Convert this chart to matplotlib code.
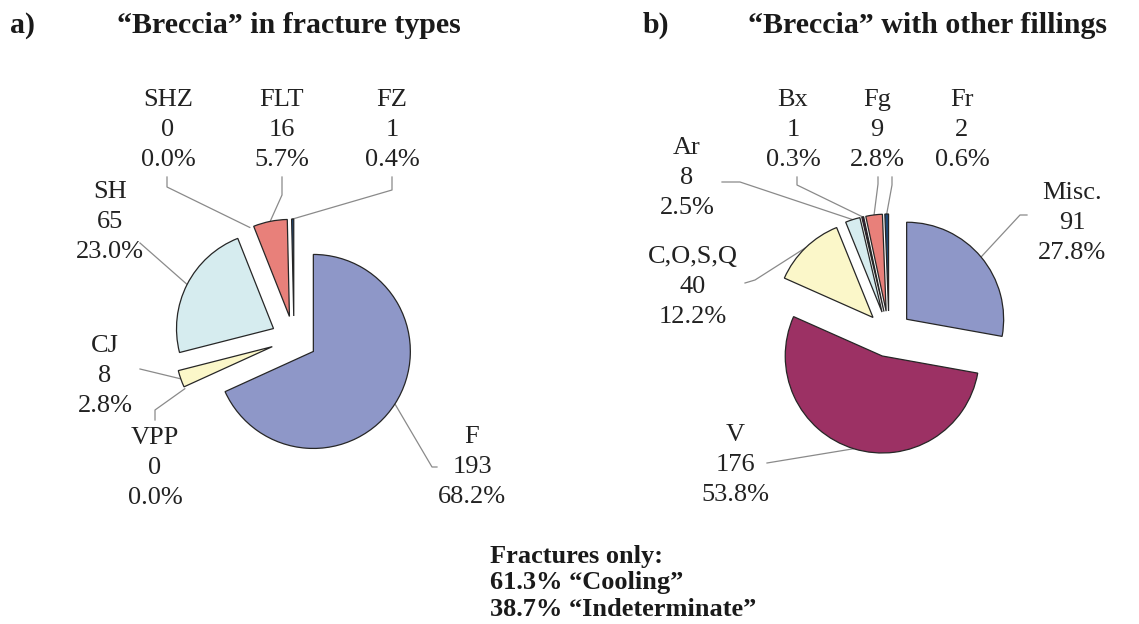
import matplotlib
matplotlib.use('Agg')
import matplotlib.pyplot as plt
import numpy as np

plt.rcParams['font.family'] = ['Liberation Serif', 'DejaVu Serif']

W, H = 1139, 624

# a) breccia by fracture type
a_names = ['F', 'VPP', 'CJ', 'SH', 'SHZ', 'FLT', 'FZ']
a_counts = [193, 0, 8, 65, 0, 16, 1]
a_pcts = ['68.2%', '0.0%', '2.8%', '23.0%', '0.0%', '5.7%', '0.4%']

# b) breccia together with other fillings
b_names = ['Misc.', 'V', 'C,O,S,Q', 'Ar', 'Bx', 'Fg', 'Fr']
b_counts = [91, 176, 40, 8, 1, 9, 2]
b_pcts = ['27.8%', '53.8%', '12.2%', '2.5%', '0.3%', '2.8%', '0.6%']

palette = ['#8e97c8', '#9c3164', '#fbf7c9', '#d6ecef', '#4a1744', '#e8807a', '#1f4a7a']

R = 97        # pie radius (pixels)
EXPL = 23     # explode offset (pixels)

# label centre and leader-line start/elbow, pixel coords from top-left
a_layout = {
    'F':   ((472, 467), [(437, 467), (432, 467)]),
    'VPP': ((155, 468), [(155, 420), (155, 410)]),
    'CJ':  ((105, 376), [(140, 369)]),
    'SH':  ((110, 222), [(140, 243)]),
    'SHZ': ((168, 130), [(167, 177), (167, 187)]),
    'FLT': ((282, 130), [(282, 177), (282, 195)]),
    'FZ':  ((392, 130), [(392, 177), (392, 190)]),
}
b_layout = {
    'Misc.':   ((1072, 223), [(1027, 215), (1020, 215)]),
    'V':       ((735, 465), [(767, 463)]),
    'C,O,S,Q': ((693, 287), [(745, 283), (755, 280)]),
    'Ar':      ((687, 178), [(722, 182), (740, 182)]),
    'Bx':      ((793, 130), [(797, 177), (797, 185)]),
    'Fg':      ((877, 130), [(878, 177), (878, 184)]),
    'Fr':      ((962, 130), [(892, 177), (892, 185)]),
}


def draw_pie(ax, names, counts, pcts, centre, layout):
    wedges, _ = ax.pie(counts, colors=palette, startangle=90, counterclock=False,
                       radius=R, center=(centre[0], H - centre[1]),
                       explode=[EXPL] * len(counts),
                       wedgeprops=dict(edgecolor='#262626', linewidth=0.9))
    for w, n, c, p in zip(wedges, names, counts, pcts):
        if c == 0:
            w.set_visible(False)
        mid = np.deg2rad((w.theta1 + w.theta2) / 2)
        ex = w.center[0] + w.r * np.cos(mid)
        ey = w.center[1] + w.r * np.sin(mid)
        (tx, ty), pts = layout[n]
        xs = [q[0] for q in pts] + [ex]
        ys = [H - q[1] for q in pts] + [ey]
        ax.plot(xs, ys, color='#8a8a8a', lw=0.9, zorder=0)
        ax.text(tx, H - ty, f'{n}\n{c}\n{p}', ha='center', va='center',
                fontsize=19, linespacing=1.45, color='#222222')


fig = plt.figure(figsize=(W / 100, H / 100), dpi=100)
ax = fig.add_axes([0, 0, 1, 1])

draw_pie(ax, a_names, a_counts, a_pcts, (294, 339), a_layout)
draw_pie(ax, b_names, b_counts, b_pcts, (889, 334), b_layout)

ax.set_xlim(0, W)
ax.set_ylim(0, H)
ax.axis('off')

tkw = dict(fontsize=21.5, fontweight='bold', color='#1a1a1a', va='baseline')
ax.text(10, H - 33, 'a)', ha='left', **tkw)
ax.text(289, H - 33, '\u201cBreccia\u201d in fracture types', ha='center', **tkw)
ax.text(643, H - 33, 'b)', ha='left', **tkw)
ax.text(928, H - 33, '\u201cBreccia\u201d with other fillings', ha='center', **tkw)

bkw = dict(fontsize=19, fontweight='bold', color='#1a1a1a', va='baseline', ha='left')
ax.text(490, H - 563, 'Fractures only:', **bkw)
ax.text(490, H - 589, '61.3% \u201cCooling\u201d', **bkw)
ax.text(490, H - 616, '38.7% \u201cIndeterminate\u201d', **bkw)

fig.savefig('out.png', dpi=100)
